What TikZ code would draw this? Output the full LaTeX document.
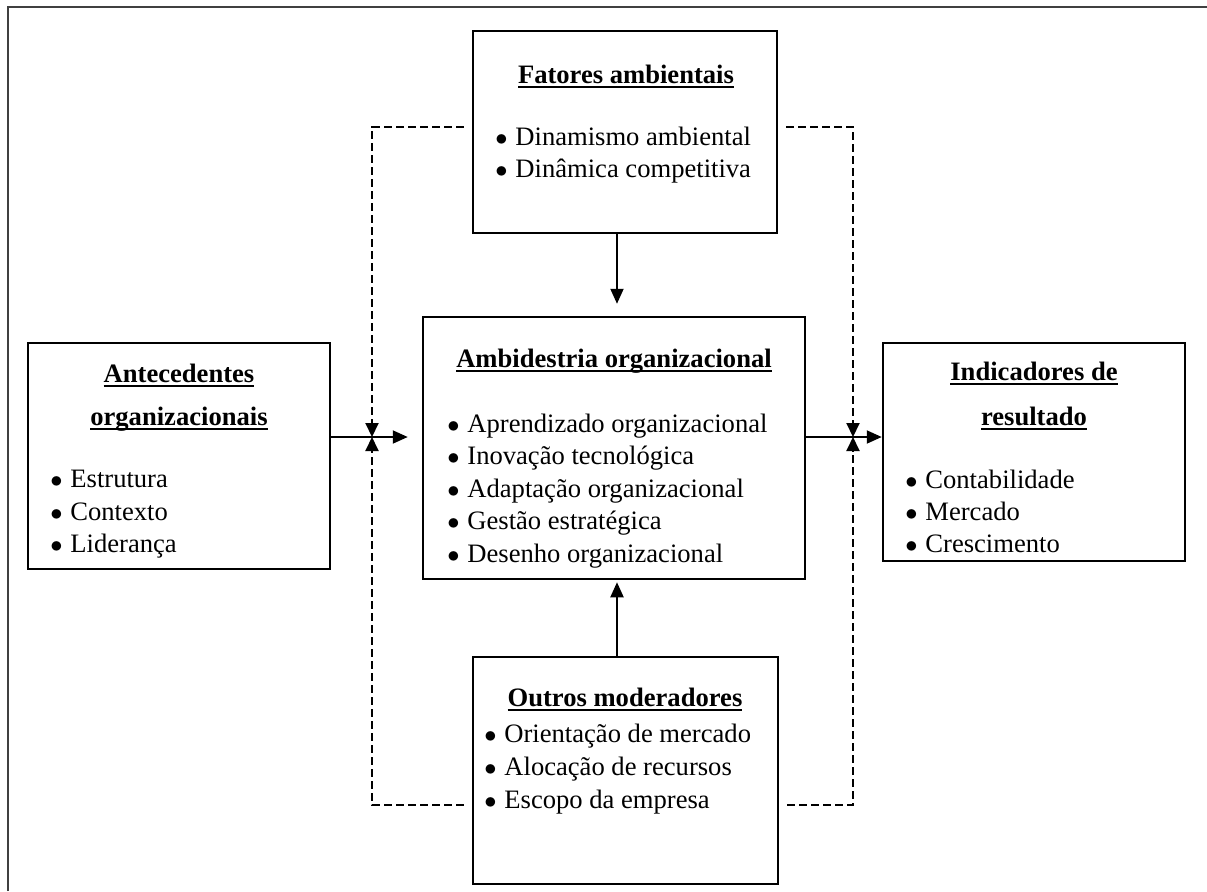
\documentclass[tikz,border=0pt]{standalone}
\usepackage{fontspec}
\setmainfont{Liberation Serif}
\usetikzlibrary{arrows.meta,calc}
\newcommand\fsz{\fontsize{13.3pt}{16pt}\selectfont}
\newcommand\ulx[1]{\setbox0\hbox{#1}\rlap{\rule[-2.4pt]{\wd0}{0.9pt}}\box0}
\newcommand\bul{\makebox[10pt][l]{\raisebox{-0.2pt}{\scalebox{0.85}{$\bullet$}}}}
\definecolor{framegray}{HTML}{404040}
\tikzset{
  box/.style={draw, line width=1.25pt, inner sep=0pt},
  ttl/.style={anchor=base, font=\fsz\bfseries, inner sep=0pt},
  itm/.style={anchor=base west, font=\fsz, inner sep=0pt},
  arr/.style={line width=1pt, -{Triangle[width=6.5pt,length=7.5pt]}},
  darr/.style={line width=1pt, dash pattern=on 4pt off 2pt, -{Triangle[width=6.5pt,length=7pt]}},
}
\begin{document}
\begin{tikzpicture}[x=0.5pt,y=-0.5pt]
\useasboundingbox (0,0) rectangle (1207,891);
\draw[framegray, line width=1pt] (8,891) -- (8,7) -- (1207,7);

% boxes
\node[box, minimum width=152pt, minimum height=101pt] (top) at (625,132) {};
\node[box, minimum width=191pt, minimum height=131pt] (center) at (614,448) {};
\node[box, minimum width=151pt, minimum height=113pt] (left) at (179,456) {};
\node[box, minimum width=151pt, minimum height=109pt] (right) at (1034,452) {};
\node[box, minimum width=152.5pt, minimum height=113.5pt] (bottom) at (625.5,770.5) {};

% top box text
\node[ttl] (topT) at (626,83) {\ulx{Fatores ambientais}};
\node[itm] (topI1) at (495,145) {\bul Dinamismo ambiental};
\node[itm] (topI2) at (495,177) {\bul Dinâmica competitiva};

% center box text
\node[ttl] (cenT) at (614,367) {\ulx{Ambidestria organizacional}};
\node[itm] (cenI1) at (447,432) {\bul Aprendizado organizacional};
\node[itm] (cenI2) at (447,464.5) {\bul Inovação tecnológica};
\node[itm] (cenI3) at (447,497) {\bul Adaptação organizacional};
\node[itm] (cenI4) at (447,529.5) {\bul Gestão estratégica};
\node[itm] (cenI5) at (447,562) {\bul Desenho organizacional};

% left box text
\node[ttl] (lefT1) at (179,382) {\ulx{Antecedentes}};
\node[ttl] (lefT2) at (179,425) {\ulx{organizacionais}};
\node[itm] (lefI1) at (50,487) {\bul Estrutura};
\node[itm] (lefI2) at (50,520) {\bul Contexto};
\node[itm] (lefI3) at (50,552) {\bul Liderança};

% right box text
\node[ttl] (rigT1) at (1034,380) {\ulx{Indicadores de}};
\node[ttl] (rigT2) at (1034,425) {\ulx{resultado}};
\node[itm] (rigI1) at (905,488) {\bul Contabilidade};
\node[itm] (rigI2) at (905,520) {\bul Mercado};
\node[itm] (rigI3) at (905,552) {\bul Crescimento};

% bottom box text
\node[ttl] (botT) at (625,706) {\ulx{Outros moderadores}};
\node[itm] (botI1) at (484,742) {\bul Orientação de mercado};
\node[itm] (botI2) at (484,775) {\bul Alocação de recursos};
\node[itm] (botI3) at (484,808) {\bul Escopo da empresa};

% junction coordinates
\coordinate (j1) at (372,437);
\coordinate (j2) at (853,437);
\coordinate (d1) at (372,127);
\coordinate (d2) at (853,127);
\coordinate (d3) at (372,805);
\coordinate (d4) at (853,805);
\coordinate (vt) at ($(center.north)+(3,0)$);
\coordinate (vb) at ($(center.south)+(3,0)$);

% solid arrows
\draw[arr, shorten >=6pt] (top.south -| vt) -- (vt);
\draw[arr, shorten >=1pt] (bottom.north -| vb) -- (vb);
\draw[arr, shorten >=7pt] (left.east |- j1) -- (center.west |- j1);
\draw[arr] (center.east |- j2) -- (right.west |- j2);

% dashed arrows
\draw[darr, shorten <=4pt] (top.west |- d1) -- (d1) -- (j1);
\draw[darr, shorten <=4pt] (top.east |- d2) -- (d2) -- (j2);
\draw[darr, shorten <=4pt] (bottom.west |- d3) -- (d3) -- (j1);
\draw[darr, shorten <=4pt] (bottom.east |- d4) -- (d4) -- (j2);
\end{tikzpicture}
\end{document}
